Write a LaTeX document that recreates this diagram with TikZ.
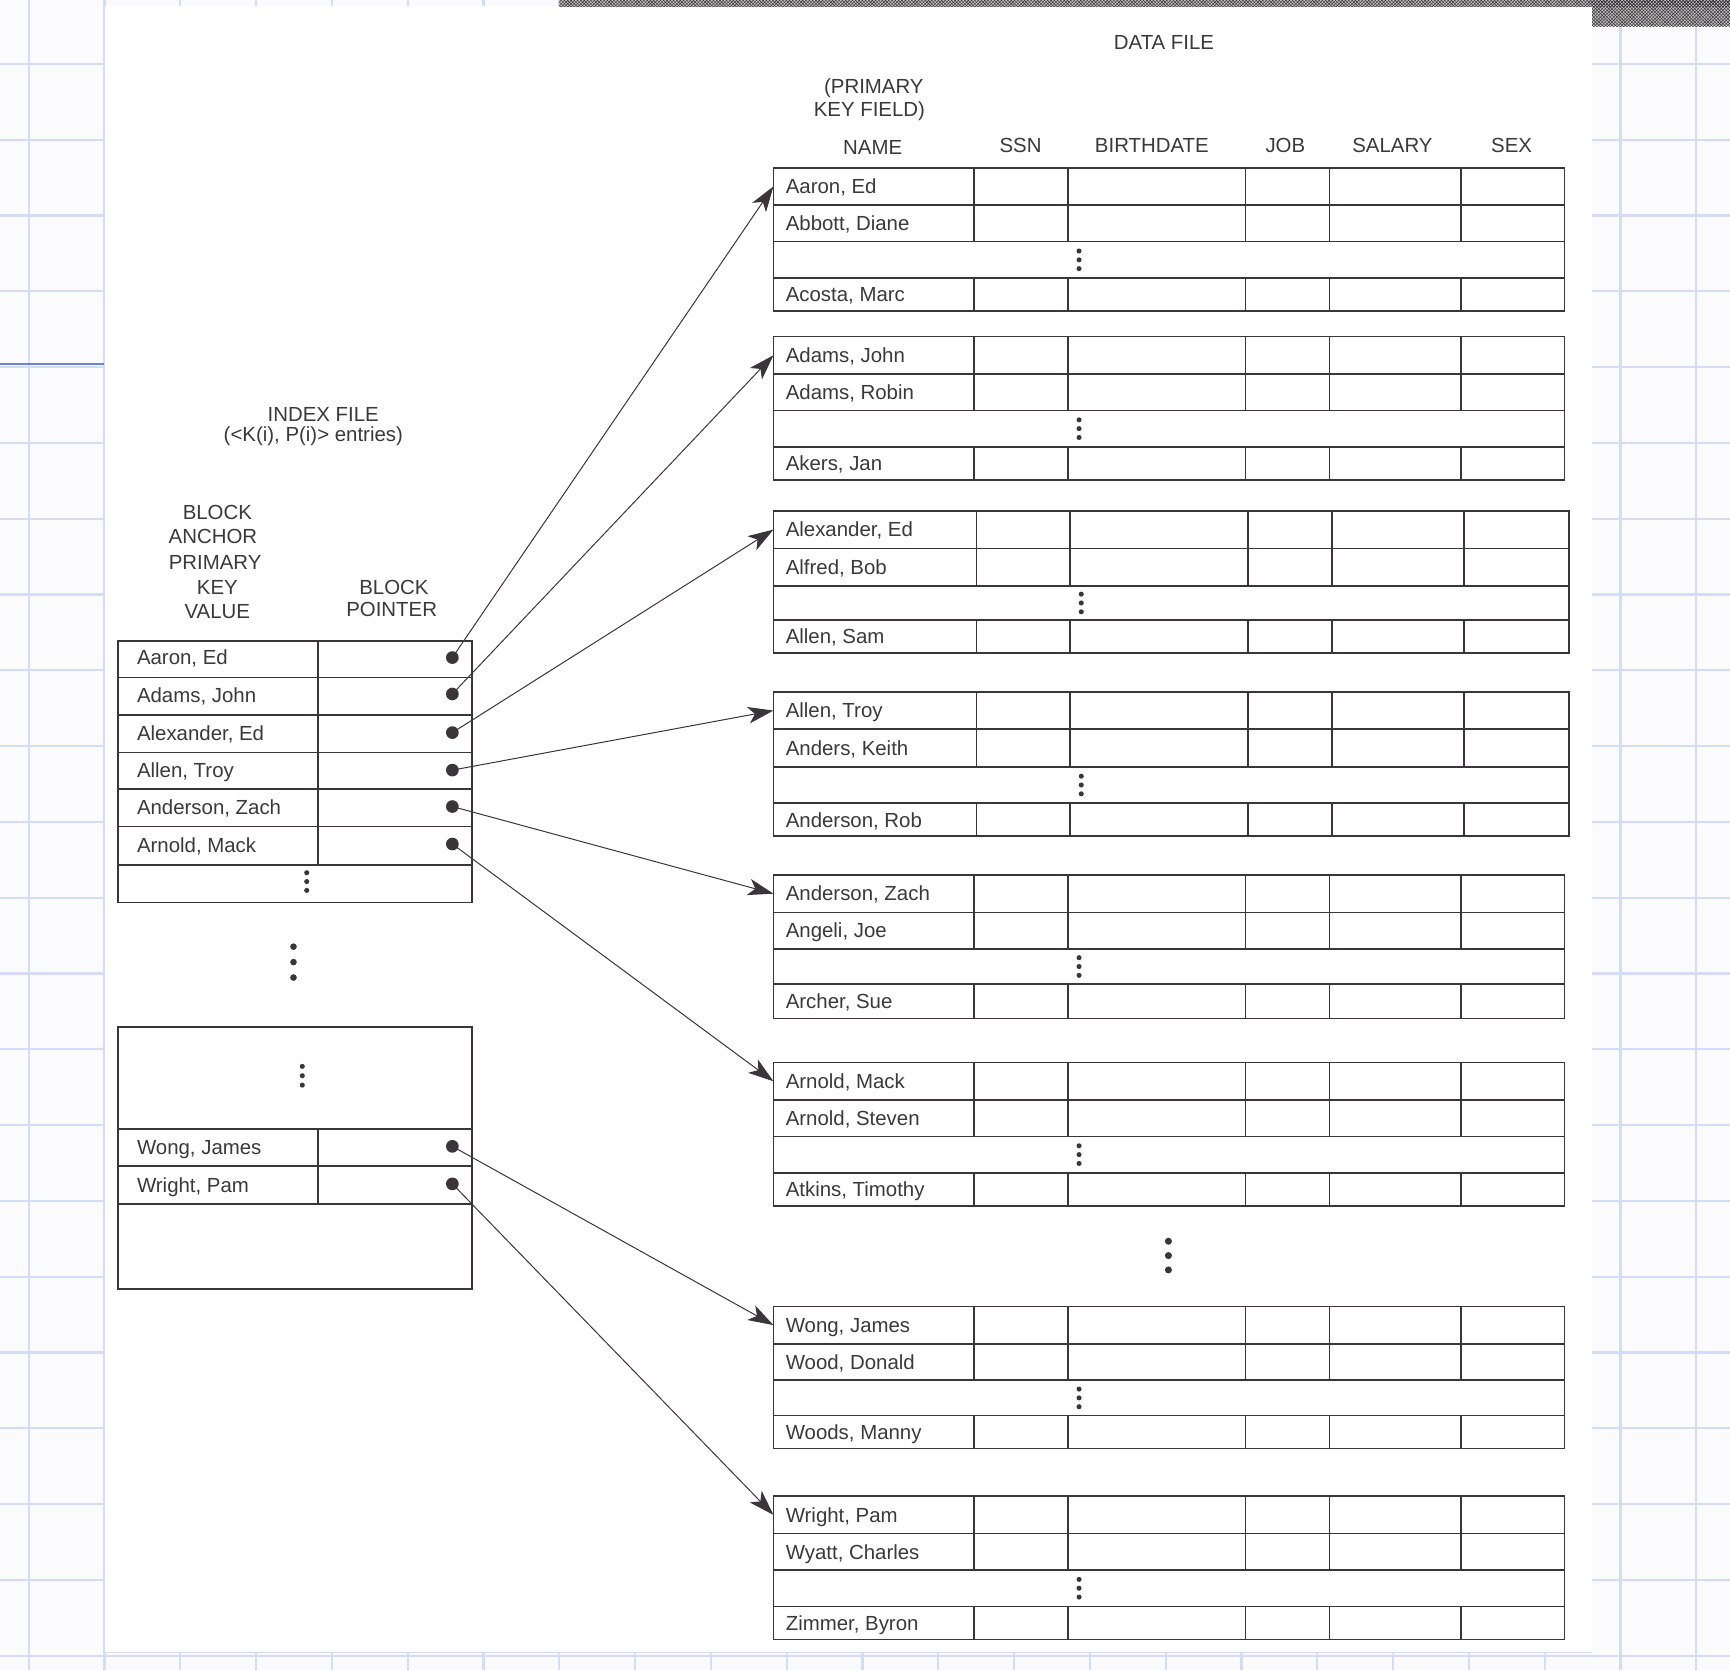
\documentclass[tikz,border=0pt]{standalone}
\usepackage{fontspec}
\setmainfont{Liberation Sans}
\usetikzlibrary{arrows.meta,patterns}
\definecolor{gridc}{HTML}{D4DDF8}
\definecolor{selc}{HTML}{6B80E2}
\definecolor{ink}{HTML}{3B3539}
\definecolor{txtc}{HTML}{3A3A3A}
\definecolor{bgc}{HTML}{FBFBFD}
\tikzset{
  box/.style={draw=ink, line width=1.5pt},
  lbl/.style={inner sep=0pt, text=txtc, font=\fontsize{18.5}{21}\selectfont},
  hl/.style={lbl, anchor=base},
  cell/.style={lbl, anchor=base west},
  ptr/.style={circle, fill=ink, inner sep=0pt, minimum size=11.5pt},
  arr/.style={draw=ink, line width=0.9pt, -{Stealth[length=23pt,width=15pt,inset=6pt]}},
  gridln/.style={draw=gridc, line width=2pt},
}
% three vertical dots: x, y(center), spacing, radius(pt)
\newcommand{\vdts}[4]{\fill[ink] (#1,{#2-#3}) circle (#4pt) (#1,{#2}) circle (#4pt) (#1,{#2+#3}) circle (#4pt);}
% data block: id, 5 row lines, 3 names
\newcommand{\dblk}[9]{%
  \draw[box] (701,#2) rectangle (\xr,#6);
  \draw[box] (701,#3) -- (\xr,#3) (701,#4) -- (\xr,#4) (701,#5) -- (\xr,#5);
  \foreach \cc in \cols {\draw[box] (\cc,#2) -- (\cc,#4) (\cc,#5) -- (\cc,#6);}
  \node[cell] (#1a) at (712,{(#2+#3)/2+6.6}) {#7};
  \node[cell] (#1b) at (712,{(#3+#4)/2+6.6}) {#8};
  \node[cell] (#1c) at (712,{(#5+#6)/2+6.6}) {#9};
  \vdts{\dxx}{(#4+#5)/2}{8}{2.3}
  \coordinate (#1) at (701,{(#2+#3)/2});
}
\begin{document}
\begin{tikzpicture}[x=1pt,y=-1pt]
\useasboundingbox (0,0) rectangle (1568,1514);
% background grid
\fill[bgc] (0,0) rectangle (1568,1514);
\foreach \i in {0,...,22} \draw[gridln] ({26+68.7*\i},0) -- ({26+68.7*\i},1514);
\foreach \i in {0,...,21} \draw[gridln] (0,{58+68.7*\i}) -- (1568,{58+68.7*\i});
\draw[selc, line width=2.5pt] (0,330) -- (95,330);
\fill[white] (95,5) rectangle (1443,1498);
\draw[gridc, line width=0.8pt] (95,5) -- (95,1498) -- (1443,1498);
% hatched strip
\fill[gray!50] (507,0) rectangle (1568,6);
\fill[gray!50] (1443,0) rectangle (1568,24);
\fill[pattern=crosshatch, pattern color=ink] (507,0) rectangle (1568,6);
\fill[pattern=crosshatch, pattern color=ink] (1443,0) rectangle (1568,24);

% ---- labels ----
\node[hl] (dfile) at (1055,{38+6.6}) {DATA FILE};
\node[hl] (pk1) at (792,{78+6.6}) {(PRIMARY};
\node[hl] (pk2) at (788,{99+6.6}) {KEY FIELD)};
\node[hl] (hname) at (791,{133+6.6}) {NAME};
\node[hl] (hssn) at (925,{132+6.6}) {SSN};
\node[hl] (hbd) at (1044,{132+6.6}) {BIRTHDATE};
\node[hl] (hjob) at (1165,{132+6.6}) {JOB};
\node[hl] (hsal) at (1262,{132+6.6}) {SALARY};
\node[hl] (hsex) at (1370,{132+6.6}) {SEX};
\node[hl] (ifile) at (293,{375+6.6}) {INDEX FILE};
\node[hl] (ient) at (284,{394+6.6}) {(<K(i), P(i)> entries)};
\node[hl] (ba1) at (197,{464+6.6}) {BLOCK};
\node[hl] (ba2) at (193,{486+6.6}) {ANCHOR};
\node[hl] (ba3) at (195,{510+6.6}) {PRIMARY};
\node[hl] (ba4) at (197,{532+6.6}) {KEY};
\node[hl] (ba5) at (197,{554+6.6}) {VALUE};
\node[hl] (bp1) at (357,{532+6.6}) {BLOCK};
\node[hl] (bp2) at (355,{552+6.6}) {POINTER};

% ---- data file blocks ----
\def\xr{1418}\def\cols{883,968,1129,1205,1324}\def\dxx{978}
\dblk{d1}{152}{186}{219}{252}{282}{Aaron, Ed}{Abbott, Diane}{Acosta, Marc}
\dblk{d2}{305}{339}{372}{405}{435}{Adams, John}{Adams, Robin}{Akers, Jan}
\def\xr{1422}\def\cols{885,970,1131,1207,1327}\def\dxx{980}
\dblk{d3}{463}{497}{531}{562}{592}{Alexander, Ed}{Alfred, Bob}{Allen, Sam}
\dblk{d4}{627}{661}{695}{728}{758}{Allen, Troy}{Anders, Keith}{Anderson, Rob}
\def\xr{1418}\def\cols{883,968,1129,1205,1324}\def\dxx{978}
\dblk{d5}{793}{827}{860}{892}{923}{Anderson, Zach}{Angeli, Joe}{Archer, Sue}
\dblk{d6}{963}{997}{1030}{1063}{1093}{Arnold, Mack}{Arnold, Steven}{Atkins, Timothy}
\dblk{d7}{1184}{1218}{1251}{1283}{1313}{Wong, James}{Wood, Donald}{Woods, Manny}
\dblk{d8}{1356}{1390}{1423}{1456}{1486}{Wright, Pam}{Wyatt, Charles}{Zimmer, Byron}
\vdts{1059}{1138}{13}{3.2}

% ---- index file block 1 ----
\draw[box] (107,581) rectangle (428,818);
\foreach \yy in {614,648,682,715,749,784} \draw[box] (107,\yy) -- (428,\yy);
\draw[box] (288,581) -- (288,784);
\node[cell] (i1) at (124,{596+6.6}) {Aaron, Ed};
\node[cell] (i2) at (124,{630+6.6}) {Adams, John};
\node[cell] (i3) at (124,{665+6.6}) {Alexander, Ed};
\node[cell] (i4) at (124,{698+6.6}) {Allen, Troy};
\node[cell] (i5) at (124,{732+6.6}) {Anderson, Zach};
\node[cell] (i6) at (124,{766+6.6}) {Arnold, Mack};
\vdts{278}{799}{8}{2.3}
\vdts{266}{872}{14}{3}
% ---- index file block 2 ----
\draw[box] (107,931) rectangle (428,1168);
\foreach \yy in {1023,1057,1091} \draw[box] (107,\yy) -- (428,\yy);
\draw[box] (288,1023) -- (288,1091);
\vdts{274}{975}{8.5}{2.3}
\node[cell] (i7) at (124,{1040+6.6}) {Wong, James};
\node[cell] (i8) at (124,{1074+6.6}) {Wright, Pam};

% ---- pointers ----
\node[ptr] (p1) at (410,596) {};
\node[ptr] (p2) at (410,629) {};
\node[ptr] (p3) at (410,664) {};
\node[ptr] (p4) at (410,698) {};
\node[ptr] (p5) at (410,731) {};
\node[ptr] (p6) at (410,765) {};
\node[ptr] (p7) at (410,1039) {};
\node[ptr] (p8) at (410,1073) {};
\foreach \k in {1,...,8} \draw[arr] (p\k.center) -- (d\k);
\end{tikzpicture}
\end{document}
